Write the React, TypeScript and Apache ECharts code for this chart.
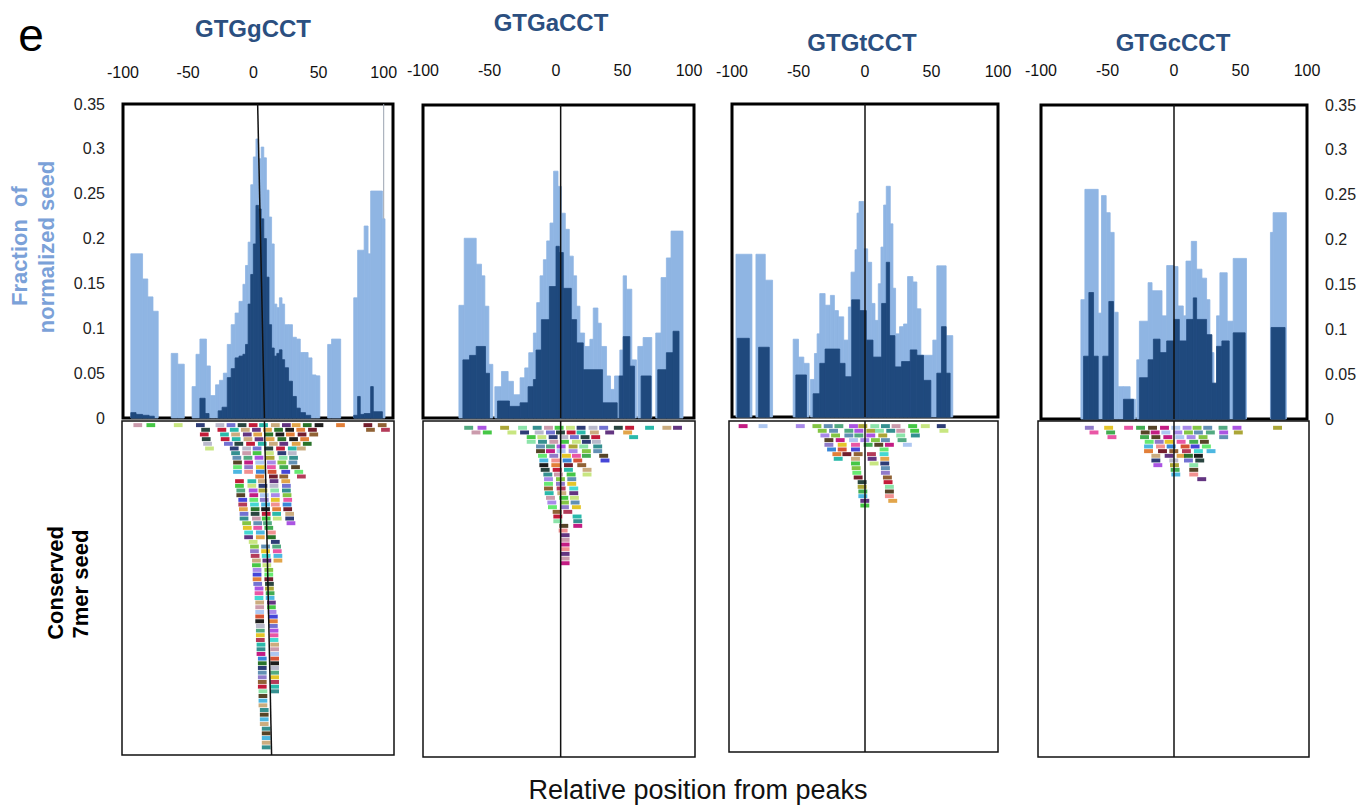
import React, { useEffect, useRef } from "react";
import * as echarts from "echarts";

// ---------- text ----------
const panelTitles = ["GTGgCCT", "GTGaCCT", "GTGtCCT", "GTGcCCT"];
const xTicks = [-100, -50, 0, 50, 100];
const yTicks = [0, 0.05, 0.1, 0.15, 0.2, 0.25, 0.3, 0.35];
const yTitleLines = ["Fraction  of", "normalized seed"];
const seedTitleLines = ["Conserved", "7mer seed"];
const xTitle = "Relative position from peaks";
const panelLetter = "e";

// ---------- histogram data: [start, end, fraction] ----------
const p1Light: number[][] = [
  [-94, -85, 0.183], [-85, -81, 0.155], [-81, -77, 0.135], [-77, -73, 0.119],
  [-63, -58, 0.072], [-58, -53, 0.06],
  [-47, -44, 0.035], [-44, -41, 0.071], [-41, -36, 0.088], [-36, -33, 0.058],
  [-33, -29, 0.025], [-29, -26, 0.037], [-26, -23, 0.042], [-23, -20, 0.05], [-20, -17, 0.082],
  [-17, -14, 0.104], [-14, -11, 0.117], [-11, -8, 0.13], [-8, -6, 0.149], [-6, -4, 0.17],
  [-4, -2, 0.196], [-2, 0, 0.26], [0, 2, 0.291], [2, 4, 0.311], [4, 6, 0.289], [6, 8, 0.302],
  [8, 10, 0.29], [10, 12, 0.254], [12, 14, 0.224], [14, 16, 0.194], [16, 18, 0.127],
  [18, 20, 0.123], [20, 22, 0.134], [22, 24, 0.127], [24, 27, 0.104], [27, 30, 0.104],
  [30, 33, 0.09], [33, 36, 0.088], [36, 39, 0.073], [39, 42, 0.073], [42, 45, 0.067],
  [45, 48, 0.048], [48, 51, 0.047],
  [57, 60, 0.082], [60, 67, 0.088],
  [77, 80, 0.134], [80, 85, 0.187], [85, 88, 0.214], [88, 90, 0.183], [90, 99, 0.253], [99, 101, 0.222],
];
const p1Dark: number[][] = [
  [-94, -90, 0.006], [-90, -85, 0.004], [-85, -80, 0.003], [-80, -76, 0.002],
  [-41, -37, 0.022], [-37, -34, 0.005],
  [-27, -24, 0.008], [-24, -20, 0.012], [-20, -17, 0.045], [-17, -14, 0.055], [-14, -11, 0.067],
  [-11, -8, 0.069], [-8, -6, 0.071], [-6, -4, 0.082], [-4, -2, 0.127], [-2, 0, 0.16],
  [0, 2, 0.194], [2, 4, 0.237], [4, 6, 0.233], [6, 8, 0.222], [8, 10, 0.2], [10, 12, 0.157],
  [12, 14, 0.104], [14, 16, 0.078], [16, 18, 0.069], [18, 20, 0.072], [20, 22, 0.076],
  [22, 24, 0.065], [24, 27, 0.056], [27, 30, 0.041], [30, 33, 0.024], [33, 36, 0.011],
  [36, 40, 0.006], [40, 44, 0.003],
  [77, 80, 0.003], [80, 82, 0.024], [82, 85, 0.004], [85, 90, 0.005], [90, 92, 0.035], [92, 99, 0.007],
];

const p2Light: number[][] = [
  [-73, -69, 0.126], [-69, -60, 0.201], [-60, -56, 0.172], [-56, -53.5, 0.159], [-53.5, -50.5, 0.125], [-50.5, -47.5, 0.06],
  [-46, -41, 0.035], [-41, -36, 0.052], [-36, -32, 0.041], [-32, -27, 0.026], [-27, -23.5, 0.045],
  [-23.5, -20.5, 0.056], [-20.5, -17, 0.073], [-17, -14.5, 0.095], [-14.5, -12, 0.129], [-12, -9.5, 0.159],
  [-9.5, -7, 0.177], [-7, -4.5, 0.198], [-4.5, -1.8, 0.218], [-1.8, 1.5, 0.276], [1.5, 4, 0.259],
  [4, 7, 0.229], [7, 10, 0.211], [10, 13, 0.181], [13, 15.5, 0.159], [15.5, 18, 0.125], [18, 21.5, 0.095],
  [21.5, 25.5, 0.08], [25.5, 28, 0.088], [28, 31.5, 0.123], [31.5, 34, 0.106], [34, 38, 0.08],
  [38, 41, 0.047], [41, 44, 0.032], [44, 48, 0.047], [48, 50.5, 0.076], [50.5, 53, 0.159], [53, 57, 0.144],
  [57, 60.5, 0.065], [61.5, 65.5, 0.08], [65.5, 72, 0.09], [75, 79, 0.095], [79, 83, 0.157],
  [83, 86.5, 0.179], [86.5, 95.5, 0.209],
];
const p2Dark: number[][] = [
  [-70, -65, 0.065], [-65, -60, 0.07], [-60, -53, 0.08], [-53, -50, 0.05],
  [-44, -35, 0.019], [-35, -27, 0.013], [-27, -21, 0.017], [-21, -17, 0.035], [-17, -15, 0.043],
  [-15, -11, 0.076], [-11, -5, 0.11], [-5, 0, 0.147], [0, 2.5, 0.192], [2.5, 5.5, 0.185],
  [5.5, 11.5, 0.145], [11.5, 15.5, 0.11], [15.5, 20.5, 0.084], [20.5, 35, 0.054], [35, 46, 0.017],
  [47.5, 50.5, 0.047], [50.5, 55.5, 0.091], [55.5, 59, 0.058], [64, 71.5, 0.047],
  [76.5, 83, 0.054], [83, 88, 0.073], [88, 92.5, 0.097],
];

const p3Light: number[][] = [
  [-97, -85, 0.182], [-82, -75, 0.182], [-75, -69.5, 0.153],
  [-54, -50, 0.087], [-50, -46, 0.067], [-46, -42, 0.06],
  [-41, -38, 0.042], [-38, -36, 0.071], [-36, -34, 0.093], [-34, -30, 0.138], [-30, -26, 0.125],
  [-26, -23, 0.136], [-23, -20, 0.119], [-20, -16, 0.112], [-16, -12.5, 0.086], [-12.5, -10.5, 0.123],
  [-10.5, -7.5, 0.162], [-7.5, -6, 0.187], [-6, -4.5, 0.228], [-4.5, -1, 0.241], [-1, 2, 0.188],
  [2, 5, 0.173], [5, 7.5, 0.127], [7.5, 10, 0.108], [10, 12, 0.149], [12, 14, 0.19], [14, 16, 0.237],
  [16, 19, 0.258], [19, 21, 0.216], [21, 23, 0.144], [23, 26, 0.093], [26, 29, 0.101], [29, 32, 0.104],
  [32, 36, 0.157], [36, 39, 0.151], [39, 42, 0.121], [42, 51, 0.069], [51, 54, 0.086], [54, 61, 0.169],
  [61, 66, 0.091],
];
const p3Dark: number[][] = [
  [-96, -87, 0.088], [-80, -72, 0.078], [-52, -44, 0.047],
  [-39, -34, 0.026], [-34, -30, 0.06], [-30, -19, 0.076], [-19, -15, 0.06], [-15, -10, 0.045],
  [-10, -4, 0.131], [-4, 1, 0.119], [1, 6, 0.086], [6, 12.5, 0.067], [12.5, 16, 0.127],
  [16, 18.5, 0.173], [18.5, 22.5, 0.091], [22.5, 27.5, 0.056], [27.5, 34, 0.062], [34, 39, 0.075],
  [39, 44, 0.069], [44, 49.5, 0.041], [54, 57.5, 0.049], [57.5, 61, 0.101], [61, 64, 0.049],
];

const p4Light: number[][] = [
  [-70, -67, 0.133], [-67, -57, 0.256], [-57, -54.5, 0.118],
  [-54.5, -51, 0.249], [-51, -48, 0.23], [-48, -45, 0.208], [-45, -42, 0.119],
  [-42, -38, 0.036], [-38, -33, 0.036], [-33, -29, 0.022],
  [-28, -26, 0.066], [-26, -19.5, 0.109], [-19.5, -16.5, 0.152], [-16.5, -9, 0.143], [-9, -5.5, 0.115],
  [-5.5, 0, 0.171], [0, 3, 0.17], [3, 7, 0.126], [7, 9, 0.115], [9, 13, 0.176], [13, 17, 0.198],
  [17, 21, 0.167], [21, 24.5, 0.157], [24.5, 27, 0.133], [27, 30, 0.074], [30, 32, 0.031],
  [32, 34.5, 0.115], [34.5, 40, 0.163], [40, 44.5, 0.109], [44.5, 54.5, 0.179],
  [72.5, 74.5, 0.208], [74.5, 84.5, 0.23],
];
const p4Dark: number[][] = [
  [-68, -64, 0.07], [-64, -60.5, 0.141], [-60.5, -57, 0.07],
  [-53.5, -49, 0.07], [-49, -45.5, 0.131],
  [-38, -30.5, 0.022],
  [-26, -19.5, 0.046], [-19.5, -15.5, 0.066], [-15.5, -10.5, 0.089], [-10.5, -5.5, 0.074],
  [-5.5, 0, 0.087], [0, 4, 0.111], [4, 9.5, 0.087], [9.5, 14.5, 0.111], [14.5, 17, 0.135],
  [17, 24.5, 0.111], [24.5, 28.5, 0.094], [28.5, 32, 0.04], [32, 36, 0.081], [36, 41.5, 0.087],
  [44.5, 53.5, 0.096],
  [73, 83.5, 0.102],
];

// ---------- conserved 7mer seeds: start positions, one list per row ----------
const p1Seeds: number[][] = [
  [-92, -82, -61, -44, -29, -20.5, -12, -3.5, 4.5, 13.5, 22, 29.5, 38, 47, 63.5, 84.5, 95.5],
  [-40, -27.5, -18, -9.5, -1, 7.5, 16, 24.5, 33, 42, 86.5, 98],
  [-41, -25.5, -17, -8, 0, 8.5, 17, 25, 34, 43],
  [-39.5, -25, -16.5, -7.5, 1, 9.5, 18.5, 27.5, 36],
  [-38.5, -22.5, -14.5, -5.5, 3.5, 12, 20, 29.5, 38],
  [-37, -18, -8.5, -0.5, 8.5, 17.5, 26.5, 33.5],
  [-17, -8.5, -0.5, 9, 18.5, 26.5],
  [-16, -7.5, 1, 9.5, 19.5, 27.5],
  [-15.5, -7, 1.5, 10.5, 18.5, 27],
  [-15.5, -7, 2, 10.5, 20, 29],
  [-15.5, -7, 2, 11, 21.5, 31.5],
  [1.5, 12, 20, 33.5],
  [-14, -4.5, 3.5, 12.5, 21.5],
  [-14, -4.5, 4, 12.5, 22],
  [-13, -3.5, 4, 13, 22],
  [-13, -3, 5, 13.5, 22.5],
  [-11.5, -3, 5, 13.5, 23],
  [-11.5, -2.5, 6, 13.5, 22.5],
  [-11, -2, 6, 14.5, 23],
  [-10.5, -2, 6.5, 14.5, 24.5],
  [-10.5, -1, 6.5, 15, 24.5],
  [-8.5, 0, 7.5, 25.5],
  [-8, 0, 8.5],
  [-7, 2, 10.5],
  [-7, 2, 10.5],
  [-3.5, 13.5],
  [-2.5, 6, 14.5],
  [-2.5, 6, 15],
  [-2, 6.5, 15.5],
  [-1, 7, 15.5],
  [-1, 7],
  [-0.5, 8.5],
  [-0.5, 8.5],
  [-0.5, 8.5],
  [0, 9],
  [1, 9],
  [1, 9.5],
  [1, 9.5],
  [1.5, 10.5],
  [1.5, 10.5],
  [1.5, 11],
  [1.5, 12],
  [1.5, 12],
  [2, 12],
  [2, 12.5],
  [2, 12.5],
  [2, 12.5],
  [2.5, 13],
  [2.5, 13],
  [2.5, 13],
  [3.5, 13],
  [3.5, 13],
  [3.5, 13],
  [3.5, 13],
  [3.5, 13],
  [3.5, 13],
  [3.5, 13],
  [4, 13],
  [4],
  [4],
  [4],
  [5],
  [5],
  [5],
  [5],
  [6.5],
  [6.5],
  [6.5],
  [6.5],
  [6.5],
];
const p2Seeds: number[][] = [
  [-69, -59, -42, -28.5, -17.5, -9, -1, 7.5, 15.5, 24.5, 32.5, 43.5, 52, 67, 80, 88],
  [-63.5, -55, -36.5, -27, -16, -7.5, 0, 8, 15.5, 25.5, 37, 50.5],
  [-22, -14, -5.5, 2.5, 10.5, 18.5, 26.5, 55],
  [-22, -13.5, -5, 3, 12, 19.5, 27],
  [-15, -7.5, 0.5, 9.5, 17.5, 28],
  [-15, -7.5, 0.5, 9.5, 19.5, 28],
  [-13.5, -5, 4.5, 12, 19.5, 32.5],
  [-12.5, -3.5, 5, 13, 33.5],
  [-12.5, -3.5, 6, 16],
  [-11.5, -2.5, 6, 20],
  [-9.5, -1.5, 8, 20],
  [-9, 0, 8.5],
  [-9, 0, 8.5],
  [-9, 0.5, 10],
  [-8.5, 1, 10],
  [-7.5, 2.5, 10.5],
  [-6.5, 3, 11],
  [-6, 3, 12],
  [-2.5, 5.5],
  [-2, 12.5],
  [-2, 13],
  [2.5, 13],
  [2],
  [3.5],
  [3.5],
  [3.5],
  [3.5],
  [3.5],
  [3.5],
  [3.5],
];
const p3Seeds: number[][] = [
  [-95, -80, -52, -39.5, -31, -23, -12, -5, 4, 12, 20, 32.5, 42, 54],
  [-35.5, -27, -15.5, -8, 1, 7.5, 16, 23.5, 34, 56],
  [-33.5, -25.5, -15.5, -8, 1, 10, 23.5, 34.5],
  [-30.5, -22, -12, -3.5, 4.5, 12, 24.5],
  [-30.5, -20.5, -10.5, -1, 7, 15, 28.5],
  [-28.5, -20.5, -10.5, 11],
  [-24.5, -17, -8.5, 1.5, 11],
  [-23.5, -10.5, 2, 11.5],
  [-10.5, 3.5, 11.5],
  [-10, 12],
  [-9.5, 12],
  [-8.5, 13.5],
  [-5.5, 14],
  [-5.5, 15],
  [-5, 15],
  [-5, 15],
  [-3.5, 17.5],
  [-3.5],
];
const p4Seeds: number[][] = [
  [-67, -52.5, -37.5, -28.5, -19.5, -10.5, -2, 6.5, 14, 22, 33.5, 44, 74.5],
  [-63.5, -51, -25, -17.5, -9.5, -0.5, 7.5, 15, 24, 34, 45],
  [-50, -25.5, -17, -8, 1, 9.5, 18.5, 34],
  [-22, -14.5, -7, 2, 11.5, 19.5],
  [-22.5, -13.5, -5.5, 5, 12.5, 21],
  [-22.5, -12, -3.5, 6, 15, 24.5],
  [-17, -7, 2, 7.5, 15],
  [-17, -3.5, 7.5, 16],
  [-15.5, -3, 11.5],
  [-2.5, 11.5],
  [-2, 11.5],
  [17.5],
];

// zero reference lines: x at top edge, x at bottom edge
const zeroTop: number[][] = [[3.3, 8.5], [3.5, 3.5], [0, 0], [0, 0]];
const zeroBottom: number[][] = [[8.5, 14], [3.5, 3.5], [0, 0], [0, 0]];

const lightData = [p1Light, p2Light, p3Light, p4Light];
const darkData = [p1Dark, p2Dark, p3Dark, p4Dark];
const seedData = [p1Seeds, p2Seeds, p3Seeds, p4Seeds];

const palette = [
  "#c896a8", "#3b3bd6", "#1d3b36", "#4d3a1c", "#1f6b1f", "#4aa57a", "#3ad6d0", "#3cc43c",
  "#5ee86a", "#c0102e", "#c0107c", "#111111", "#a64be0", "#43b3df", "#c5e57a", "#8a74c7",
  "#1fb5a5", "#a9c4f0", "#e0782e", "#a6a12c", "#f08a8a", "#23336f", "#e3c21d", "#c8a878",
  "#a383e8", "#6d1222", "#86e3a5", "#2d7fd6", "#b5b5c8", "#e84da0", "#5b2a7a", "#7cc23a",
  "#8a5a2a", "#2a8a8a", "#d44a2a", "#6a6ad0", "#38a848", "#e0a040", "#5a8ab0", "#b03050",
];

// ---------- layout ----------
const FONT = "'Liberation Sans', Arial, Helvetica, sans-serif";
const topGrids = [
  { left: 123, top: 104, width: 270, height: 314 },
  { left: 423, top: 105, width: 271, height: 313 },
  { left: 732, top: 104, width: 266, height: 313 },
  { left: 1041, top: 105, width: 266, height: 314 },
];
const bottomGrids = [
  { left: 122, top: 421, width: 272, height: 334 },
  { left: 423, top: 421, width: 272, height: 336 },
  { left: 729, top: 421, width: 269, height: 331 },
  { left: 1038, top: 421, width: 271, height: 336 },
];
// pixel position of -100 and pixels per unit, per panel
const xScale = [
  { x0: 123, ppu: 1.3035 },
  { x0: 423, ppu: 1.33 },
  { x0: 732, ppu: 1.33 },
  { x0: 1041, ppu: 1.33 },
];
const rowOffset = [-0.36, -0.93, -0.57, -0.93];
const ROW_PX = 4.67;
const labelMargins = [24, 27, 25, 27];
const titlePos = [
  [253, 28],
  [551, 22],
  [862, 42],
  [1173, 42],
];

function xRange(i: number, g: { left: number; width: number }) {
  const s = xScale[i];
  const min = -100 + (g.left - s.x0) / s.ppu;
  return { min, max: min + g.width / s.ppu };
}

function buildOption() {
  const grid: any[] = [];
  const xAxis: any[] = [];
  const yAxis: any[] = [];
  const series: any[] = [];

  for (let i = 0; i < 4; i++) {
    const g = topGrids[i];
    grid.push({ ...g, show: true, borderColor: "#000", borderWidth: 3, backgroundColor: "#fff", z: 1 });
    const r = xRange(i, g);
    xAxis.push({
      gridIndex: i,
      type: "value",
      position: "top",
      min: r.min,
      max: r.max,
      axisLine: { show: false },
      axisTick: { show: true, inside: false, length: 5, customValues: xTicks, lineStyle: { color: "#444" } },
      axisLabel: {
        customValues: xTicks,
        showMinLabel: true,
        showMaxLabel: true,
        margin: labelMargins[i],
        fontSize: 16,
        color: "#111",
        fontFamily: FONT,
      },
      splitLine: { show: false },
    });
    const right = i === 1 || i === 3;
    yAxis.push({
      gridIndex: i,
      type: "value",
      min: 0,
      max: 0.35,
      position: right ? "right" : "left",
      axisLine: { show: false },
      axisTick: { show: true, length: 5, customValues: yTicks, lineStyle: { color: "#444" } },
      axisLabel: {
        show: i === 0 || i === 3,
        customValues: yTicks,
        margin: 18,
        fontSize: 16,
        color: "#222",
        fontFamily: FONT,
        formatter: (v: number) => String(Math.round(v * 100) / 100),
      },
      splitLine: { show: false },
    });
  }
  for (let i = 0; i < 4; i++) {
    const g = bottomGrids[i];
    grid.push({ ...g, show: true, borderColor: "#111", borderWidth: 1.5, backgroundColor: "#fff", z: 1 });
    const r = xRange(i, g);
    xAxis.push({ gridIndex: 4 + i, type: "value", min: r.min, max: r.max, show: false });
    yAxis.push({
      gridIndex: 4 + i,
      type: "value",
      inverse: true,
      min: rowOffset[i],
      max: rowOffset[i] + g.height / ROW_PX,
      show: false,
    });
  }

  const barRender = (color: string) => (params: any, api: any) => {
    const x0 = api.value(0);
    const x1 = api.value(1);
    const v = api.value(2);
    const a = api.coord([x0, v]);
    const b = api.coord([x1, 0]);
    return {
      type: "rect",
      shape: { x: a[0], y: a[1], width: b[0] - a[0], height: b[1] - a[1] },
      style: { fill: color, stroke: color, lineWidth: 0.8 },
    };
  };

  for (let i = 0; i < 4; i++) {
    series.push({
      type: "custom",
      name: "all seeds",
      xAxisIndex: i,
      yAxisIndex: i,
      dimensions: ["start", "end", "value"],
      encode: { x: [0, 1], y: 2 },
      data: lightData[i],
      renderItem: barRender("#8fb5e3"),
      silent: true,
      z: 2,
    });
    series.push({
      type: "custom",
      name: "conserved seeds",
      xAxisIndex: i,
      yAxisIndex: i,
      dimensions: ["start", "end", "value"],
      encode: { x: [0, 1], y: 2 },
      data: darkData[i],
      renderItem: barRender("#1f497d"),
      silent: true,
      z: 3,
    });
    series.push({
      type: "line",
      xAxisIndex: i,
      yAxisIndex: i,
      data: [
        [zeroTop[i][0], 0.35],
        [zeroTop[i][1], 0],
      ],
      symbol: "none",
      lineStyle: { color: "#111", width: 1.5 },
      silent: true,
      z: 5,
    });

    // seeds
    const rows = seedData[i];
    const pts: number[][] = [];
    let k = 0;
    rows.forEach((row, r) => {
      row.forEach((s) => {
        pts.push([s, r, (k * 7 + r * 3 + i * 5) % palette.length]);
        k++;
      });
    });
    series.push({
      type: "custom",
      name: "seed sites",
      xAxisIndex: 4 + i,
      yAxisIndex: 4 + i,
      dimensions: ["start", "row", "color"],
      encode: { x: 0, y: 1 },
      data: pts,
      renderItem: (params: any, api: any) => {
        const s = api.value(0);
        const r = api.value(1);
        const c = api.value(2);
        const a = api.coord([s, r + 0.1]);
        const b = api.coord([s + 6.7, r + 0.95]);
        return {
          type: "rect",
          shape: { x: a[0], y: a[1], width: b[0] - a[0], height: b[1] - a[1] },
          style: { fill: palette[c], opacity: 0.95 },
        };
      },
      silent: true,
      z: 3,
    });
    const yr = yAxis[4 + i];
    series.push({
      type: "line",
      xAxisIndex: 4 + i,
      yAxisIndex: 4 + i,
      data: [
        [zeroBottom[i][0], yr.min],
        [zeroBottom[i][1], yr.max],
      ],
      symbol: "none",
      lineStyle: { color: "#111", width: 1.5 },
      silent: true,
      z: 5,
    });
  }
  // faint guide at +100 in first panel
  series.push({
    type: "line",
    xAxisIndex: 0,
    yAxisIndex: 0,
    data: [
      [100, 0.35],
      [100, 0.222],
    ],
    symbol: "none",
    lineStyle: { color: "#9aa3b0", width: 1 },
    silent: true,
    z: 4,
  });

  const graphic: any[] = [
    {
      type: "text",
      x: 31,
      y: 35,
      style: { text: panelLetter, fontSize: 46, fontFamily: FONT, fill: "#000", textAlign: "center", textVerticalAlign: "middle" },
    },
    ...panelTitles.map((t, i) => ({
      type: "text",
      x: titlePos[i][0],
      y: titlePos[i][1],
      style: {
        text: t,
        fontSize: 24,
        fontWeight: "bold",
        fontFamily: FONT,
        fill: "#2b4f80",
        textAlign: "center",
        textVerticalAlign: "middle",
      },
    })),
    {
      type: "text",
      x: 19,
      y: 246,
      rotation: Math.PI / 2,
      style: { text: yTitleLines[0], fontSize: 22, fontWeight: "bold", fontFamily: FONT, fill: "#7ba1d8", textAlign: "center", textVerticalAlign: "middle" },
    },
    {
      type: "text",
      x: 46,
      y: 247,
      rotation: Math.PI / 2,
      style: { text: yTitleLines[1], fontSize: 22, fontWeight: "bold", fontFamily: FONT, fill: "#7ba1d8", textAlign: "center", textVerticalAlign: "middle" },
    },
    {
      type: "text",
      x: 55,
      y: 583,
      rotation: Math.PI / 2,
      style: { text: seedTitleLines[0], fontSize: 22, fontWeight: "bold", fontFamily: FONT, fill: "#000", textAlign: "center", textVerticalAlign: "middle" },
    },
    {
      type: "text",
      x: 80,
      y: 584,
      rotation: Math.PI / 2,
      style: { text: seedTitleLines[1], fontSize: 22, fontWeight: "bold", fontFamily: FONT, fill: "#000", textAlign: "center", textVerticalAlign: "middle" },
    },
    {
      type: "text",
      x: 698,
      y: 790,
      style: { text: xTitle, fontSize: 27, fontFamily: FONT, fill: "#111", textAlign: "center", textVerticalAlign: "middle" },
    },
  ];

  return {
    animation: false,
    backgroundColor: "#fff",
    textStyle: { fontFamily: FONT },
    grid,
    xAxis,
    yAxis,
    series,
    graphic,
  };
}

export default function App() {
  const ref = useRef<HTMLDivElement>(null);
  useEffect(() => {
    if (!ref.current) return;
    const chart = echarts.init(ref.current, undefined, { renderer: "svg" });
    chart.setOption(buildOption() as any);
    return () => chart.dispose();
  }, []);
  return (
    <div
      ref={ref}
      style={{ position: "absolute", left: 0, top: 0, width: 1360, height: 807, background: "#fff" }}
    />
  );
}
